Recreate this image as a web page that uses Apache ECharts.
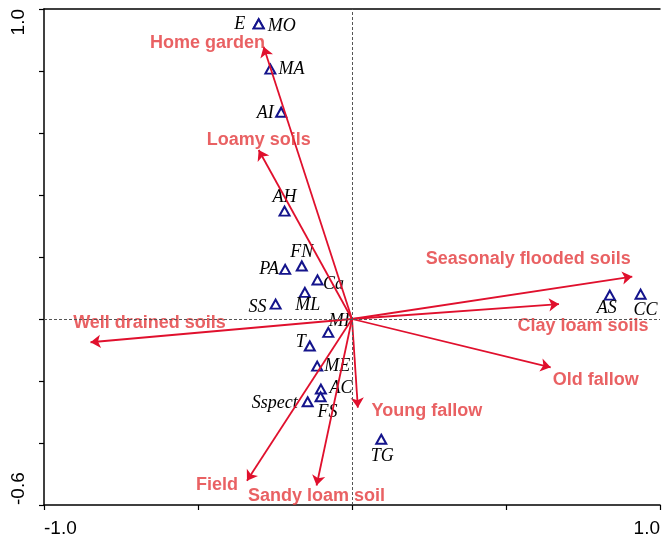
<!DOCTYPE html>
<html>
<head>
<meta charset="utf-8">
<script src="https://cdn.jsdelivr.net/npm/echarts@6/dist/echarts.min.js"></script>
<style>
  html, body { margin: 0; padding: 0; background: #fff; }
  #chart { width: 663px; height: 541px; }
</style>
</head>
<body>
<div id="chart"></div>
<script>
// species scores
const speciesNames = ['E', 'MO', 'MA', 'AI', 'AH', 'FN', 'PA', 'Ca', 'ML', 'SS', 'MI', 'T', 'ME', 'AC', 'FS', 'Sspect', 'TG', 'AS', 'CC'];
const speciesX = [-0.303, -0.303, -0.265, -0.230, -0.219, -0.163, -0.217, -0.112, -0.153, -0.248, -0.077, -0.137, -0.113, -0.101, -0.102, -0.144, 0.095, 0.837, 0.937];
const speciesY = [0.952, 0.952, 0.806, 0.667, 0.348, 0.171, 0.160, 0.126, 0.086, 0.048, -0.043, -0.087, -0.152, -0.226, -0.251, -0.267, -0.388, 0.077, 0.080];

// environmental variables (arrow tips)
const envNames = ['Home garden', 'Loamy soils', 'Well drained soils', 'Field', 'Sandy loam soil', 'Young fallow', 'Seasonaly flooded soils', 'Clay loam soils', 'Old fallow'];
const envX = [-0.287, -0.303, -0.849, -0.341, -0.115, 0.019, 0.910, 0.672, 0.645];
const envY = [0.878, 0.545, -0.075, -0.522, -0.537, -0.286, 0.137, 0.048, -0.156];

// tick labels shown
const xTickLabels = ['-1.0', '1.0'];
const yTickLabels = ['-0.6', '1.0'];

// label placement (pixels, relative to the mark)
const speciesLabelOffset = [[-19, 0], [23, 2], [21, 0], [-16, 1], [0, -14], [0, -14], [-16, 0], [16, 4], [3, 13], [-18, 3], [11, -11], [-9, -4], [20, 0], [20, -1], [7, 15], [-33, 1], [1, 17], [-3, 13], [5, 16]];
const envLabelOffset = [[-56, -4], [0, -10], [59, -19], [-30, 4], [0, 11], [69, 3], [-104, -17], [24, 22], [45, 13]];

const chart = echarts.init(document.getElementById('chart'));

function tickText(list) {
  return function (v) {
    for (const s of list) {
      if (Math.abs(v - parseFloat(s)) < 1e-6) return s;
    }
    return '';
  };
}

const speciesData = speciesNames.map((n, i) => ({
  name: n,
  value: [speciesX[i], speciesY[i]],
  label: { offset: speciesLabelOffset[i] }
}));

const arrowData = envNames.map((n, i) => ({
  name: n,
  coords: [[0, 0], [envX[i], envY[i]]]
}));

const envLabelData = envNames.map((n, i) => ({
  name: n,
  value: [envX[i], envY[i]],
  label: { offset: envLabelOffset[i] }
}));

chart.setOption({
  animation: false,
  grid: { left: 44, right: 0, top: 9, bottom: 36 },
  xAxis: [{
    type: 'value',
    min: -1, max: 1, interval: 0.5,
    splitLine: { show: false },
    axisLine: { onZero: false, lineStyle: { color: '#000', width: 1.5 } },
    axisTick: { length: 5, lineStyle: { color: '#000', width: 1.2 } },
    axisLabel: {
      formatter: tickText(xTickLabels),
      color: '#000', fontFamily: 'Liberation Sans', fontSize: 19, margin: 14,
      alignMinLabel: 'left', alignMaxLabel: 'right'
    }
  }, {
    type: 'value', position: 'top',
    min: -1, max: 1,
    splitLine: { show: false },
    axisLine: { onZero: false, lineStyle: { color: '#000', width: 1.5 } },
    axisTick: { show: false },
    axisLabel: { show: false }
  }],
  yAxis: {
    type: 'value',
    min: -0.6, max: 1, interval: 0.2,
    splitLine: { show: false },
    axisLine: { onZero: false, lineStyle: { color: '#000', width: 1.5 } },
    axisTick: { length: 5, lineStyle: { color: '#000', width: 1.2 } },
    axisLabel: {
      formatter: tickText(yTickLabels),
      rotate: 90,
      color: '#000', fontFamily: 'Liberation Sans', fontSize: 19, margin: 16,
      alignMinLabel: 'left', alignMaxLabel: 'right'
    }
  },
  series: [{
    type: 'scatter',
    data: speciesData,
    symbol: 'triangle',
    symbolSize: [10, 9],
    itemStyle: { color: '#fff', borderColor: '#14148c', borderWidth: 2, opacity: 1 },
    label: {
      show: true,
      position: 'inside',
      formatter: '{b}',
      color: '#000',
      textBorderWidth: 0,
      fontFamily: 'Liberation Serif',
      fontStyle: 'italic',
      fontSize: 18
    },
    markLine: {
      silent: true,
      symbol: 'none',
      label: { show: false },
      lineStyle: { color: '#555', type: [3, 2], width: 1 },
      data: [{ xAxis: 0 }, { yAxis: 0 }]
    },
    z: 2
  }, {
    type: 'lines',
    coordinateSystem: 'cartesian2d',
    data: arrowData,
    symbol: ['none', 'arrow'],
    symbolSize: 10,
    lineStyle: { color: '#e0102d', width: 1.8, opacity: 1 },
    z: 3
  }, {
    type: 'scatter',
    data: envLabelData,
    symbol: 'circle',
    symbolSize: 1,
    itemStyle: { color: 'rgba(0,0,0,0)' },
    label: {
      show: true,
      position: 'inside',
      formatter: '{b}',
      color: '#e43a3c',
      textBorderWidth: 0,
      fontFamily: 'Liberation Sans',
      fontWeight: 'bold',
      fontSize: 18
    },
    z: 4
  }]
});
</script>
</body>
</html>
